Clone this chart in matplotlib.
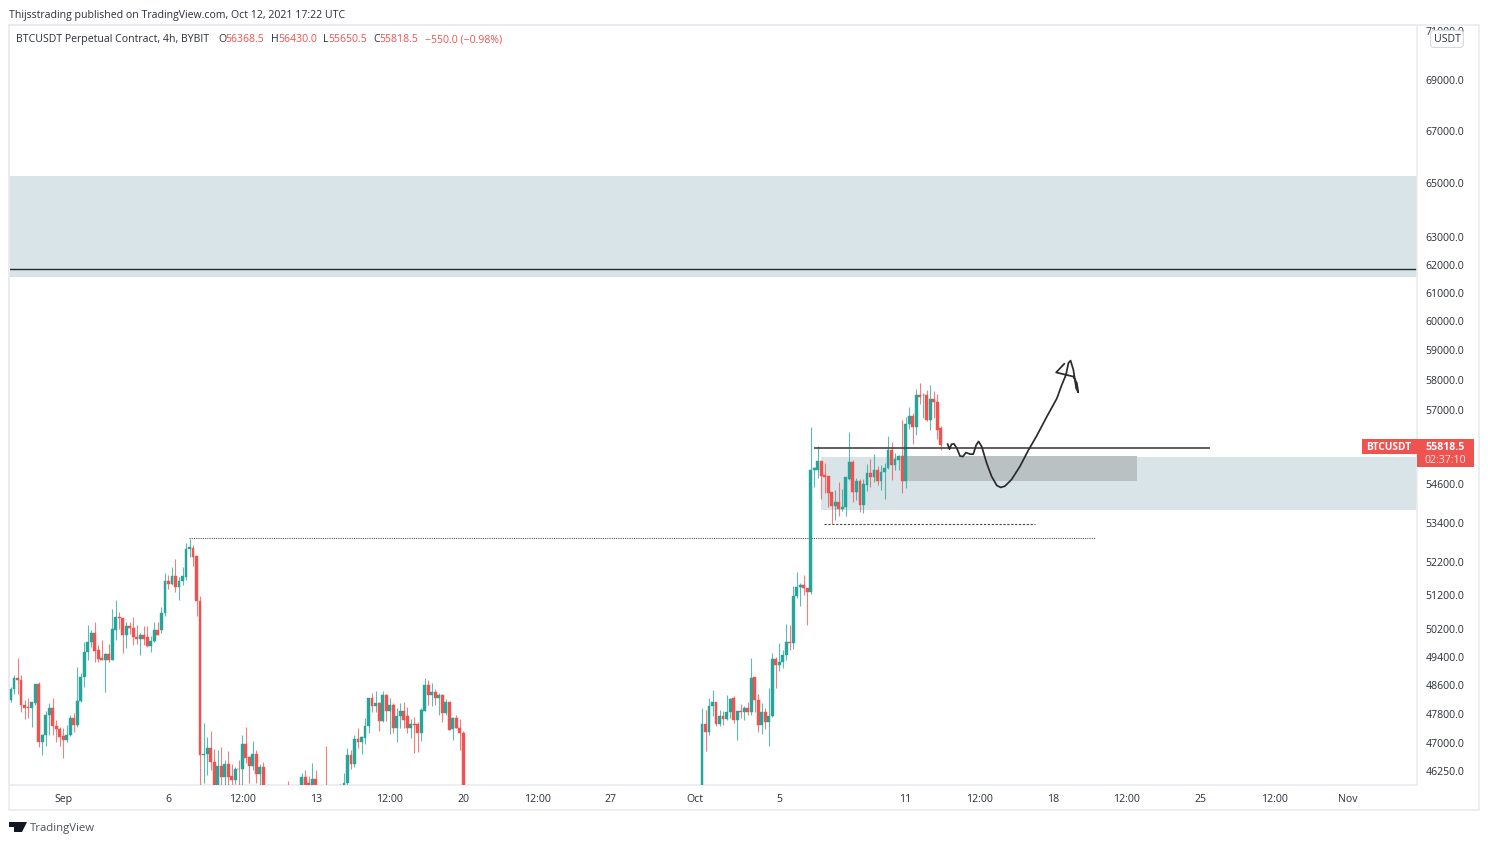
import matplotlib
matplotlib.use("Agg")
import matplotlib.pyplot as plt
from matplotlib.patches import Rectangle, Polygon
from matplotlib.ticker import NullLocator, FixedLocator, FixedFormatter
from matplotlib.transforms import ScaledTranslation

plt.rcParams['font.family'] = ['Open Sans', 'DejaVu Sans']

# ---------- data ----------
bar_index = (list(range(0, 73)) + [79, 83, 84, 85, 86, 87, 90, 94]
             + list(range(95, 130)) + list(range(197, 266)))

open_prices = [
48170,48470,48790,48730,48030,47970,47930,48080,48610,47000,47190,47740,47950,47450,47370,47180,47050,47190,47670,47480,
48140,48800,49520,49800,50060,49580,49340,49280,49470,49280,50160,50530,50500,50010,50260,50220,49960,49880,50010,49940,
49700,49850,50160,50140,50650,51610,51510,51750,51410,51610,51730,52560,52590,52350,50990,46650,46680,46840,46460,45750,
46370,46050,46410,46090,45990,46280,46270,46950,46590,46360,46680,46140,46320,
45700,45600,46050,45890,45700,46020,45700,45600,
45700,45910,46650,46400,47080,47010,47110,47450,48220,47990,48090,47590,48290,47870,48010,47380,47720,47860,47720,47380,
47510,47500,47240,47860,48580,48300,48400,48220,48300,47790,48110,47350,47650,47380,47260,
45600,47490,47290,48000,48100,47500,47730,47640,47820,48220,47610,47860,47820,47940,47820,48800,48170,47460,47820,47550,
47730,49320,49150,49230,49420,49810,49770,51140,51430,51480,51380,51280,55010,55010,55320,54860,54820,54320,53900,54020,
53790,53850,54750,55290,54340,54680,53930,54550,54920,54800,55010,54660,54950,55080,55670,55170,55350,55460,54680,56510,
56770,56400,57470,57450,57470,56640,57330,57220,56368.5]

high_prices = [
48520,48870,49340,48870,48170,48220,48120,48620,48680,47230,47870,48080,48220,47600,47410,47390,47470,47750,47800,49090,
48920,49820,50300,50160,50380,49730,49870,49490,49750,50770,51020,50690,50510,50400,50380,50530,50300,50060,50270,50270,
49970,50380,50400,50840,51830,51780,52010,52260,51730,52030,52740,52860,52690,52350,51140,47530,47130,47300,46810,46790,
46880,46520,46750,46400,46340,46520,47200,47410,46630,47030,46790,46400,46470,
45960,46180,46240,46090,46450,46250,46900,45880,
46170,46850,46790,47210,47380,47170,47650,48220,48350,48420,48110,48420,48330,48220,48070,47930,48070,48100,47960,47630,
47700,47560,47930,48770,48730,48630,48470,48350,48330,48190,48110,47680,47760,47630,47310,
47940,47890,48220,48430,48100,47890,47870,48310,48220,48280,47860,48060,48000,48120,49340,48800,48330,48080,47940,48490,
49490,49390,49770,49590,50330,50300,51450,51880,51530,51780,51380,56410,55110,55780,55320,55240,54820,54320,54380,54650,
54430,54800,56230,55350,54760,54740,54730,55220,55370,55540,55160,55190,55240,56130,55920,55580,55510,56640,56750,57080,
56860,57660,57880,57530,57640,57810,57610,57500,56430]

low_prices = [
48120,48340,48340,47830,47640,47670,47420,48030,46870,46650,46890,47190,47190,47010,46890,46560,47000,47160,47270,47410,
48110,48530,49280,49660,49230,49230,49280,48380,49230,49280,49870,50190,49500,49630,50040,49730,49750,49420,49730,49660,
49520,49820,50000,50060,50570,51350,51480,51260,51040,51480,51630,52310,52050,50570,45800,45890,46120,46250,45700,45700,
45700,45700,45700,45850,45880,45840,45800,46450,45890,46250,45910,45800,45700,
45400,45400,45500,45500,45500,45500,45300,45300,
45600,45810,46290,46330,46850,46670,46960,47240,47820,47820,47300,47540,47590,47220,47240,47010,47380,47380,47260,47120,
46700,46740,47030,47860,48020,48000,48020,47760,47560,47760,47330,47050,47380,46790,45400,
45400,46750,47200,47710,47430,47430,47480,47600,47660,47520,47060,47660,47600,47750,47750,47840,47290,47220,47360,46890,
47690,48500,48990,49060,49300,49570,49610,51090,50870,51170,50300,51220,54480,54780,54100,54310,53870,53320,53440,53580,
53720,53590,54710,54010,54080,53690,53670,54360,54480,54640,54550,54400,54100,55050,54710,55010,55030,54310,54440,56340,
55860,56150,57160,56700,56590,56320,56700,56010,55650.5]

close_prices = [
48480,48790,48710,48010,47950,47930,48100,48610,47000,47190,47740,47950,47450,47370,47150,47050,47200,47670,47480,48140,
48810,49530,49820,50060,49560,49320,49280,49470,49280,50190,50530,50500,50010,50260,50210,49940,49890,50010,49900,49700,
49850,50160,50000,50650,51610,51510,51750,51410,51610,51750,52560,52610,52330,50990,46650,46680,46840,46460,45750,46370,
46050,46410,46060,45990,46280,46270,46950,46580,46360,46680,46140,46320,45700,
45500,46050,45700,45700,46020,45700,45500,45700,
45910,46650,46400,47080,47010,47150,47450,48220,47990,48090,47590,48290,47870,48010,47380,47720,47860,47610,47380,47510,
47470,47240,47880,48580,48300,48400,48220,48300,47790,48110,47330,47650,47380,47240,45500,
47490,47290,48000,48100,47500,47730,47640,47820,48190,47610,47860,47820,47940,47820,48780,48170,47460,47820,47550,47730,
49320,49150,49230,49420,49810,49770,51140,51430,51480,51380,51280,55020,55070,55320,54820,54800,54310,53900,54020,53790,
53870,54800,55290,54340,54680,53930,54580,54920,54800,55010,54660,54950,55080,55670,55190,55370,55480,54680,56510,56770,
56400,57450,57410,57480,56640,57330,57220,56320,55818.5]

price_ticks = [71000, 69000, 67000, 65000, 63000, 62000, 61000, 60000, 59000, 58000, 57000,
               54600, 53400, 52200, 51200, 50200, 49400, 48600, 47800, 47000, 46250]
time_tick_bars = [15, 45, 66, 87, 108, 129, 150, 171, 195, 219, 255, 276, 297, 318, 339, 360, 381]
time_tick_labels = ['Sep', '6', '12:00', '13', '12:00', '20', '12:00', '27', 'Oct', '5', '11',
                    '12:00', '18', '12:00', '25', '12:00', 'Nov']

upper_zone = (61530, 65240)
resistance_line = 61820
lower_zone = (53770, 55440)
lower_zone_start = 230.9
grey_box = (54680, 55460)
grey_box_bars = (254.8, 321.0)
support_line = 55730
support_bars = (229.0, 341.7)
dotted_high = 52900
dotted_high_bars = (50.9, 309.0)
dotted_low = 53330
dotted_low_bars = (231.8, 291.9)

sketch_bars = [267.0,267.5,268.1,268.8,269.6,270.5,271.3,272.2,273.4,274.3,275.1,275.8,276.7,278.1,279.5,281.0,
               282.1,283.3,285.2,287.6,290.0,292.3,295.2,298.1,299.5,300.7,301.4,302.0,302.8,303.6,304.2,303.8,
               302.8,300.7,297.9,300.2]
sketch_prices = [55850,55690,55850,55860,55720,55470,55450,55580,55530,55530,55820,55940,55770,55240,54820,54530,
                 54470,54510,54720,55140,55660,56110,56740,57350,57800,58140,58540,58620,58310,57690,57550,57860,
                 58080,58140,58220,58510]

# ---------- style ----------
W, H = 1488, 843
UP, DOWN = '#26a69a', '#ef5350'
BORDER = '#e9ebf1'
TEXT = '#2a2e39'
FS = 7.55

def fx(x): return x / W
def fy(y): return 1 - y / H

fig = plt.figure(figsize=(W / 100, H / 100), dpi=100, facecolor='white')
ax = fig.add_axes([fx(9), fy(785), (1417 - 9) / W, (785 - 25) / H])
ax.set_yscale('log')
ax.set_ylim(45850, 71190)
ax.set_xlim(-0.43, 400.7)

# zones and levels
ax.axhspan(*upper_zone, color='#d9e4e8', lw=0, zorder=1)
ax.axhline(resistance_line, color='#1f2a30', lw=1.0, zorder=2)
ax.fill_between([lower_zone_start, 400.7], *lower_zone, color='#d9e4e8', lw=0, zorder=1)
ax.fill_between(grey_box_bars, *grey_box, color='#b9c1c3', lw=0, zorder=1.2)
ax.plot(support_bars, [support_line] * 2, color='#444444', lw=1.2, zorder=4, solid_capstyle='butt')
ax.plot(dotted_high_bars, [dotted_high] * 2, color='#555555', lw=0.8, ls=(0, (1, 1)), zorder=2.5)
ax.plot(dotted_low_bars, [dotted_low] * 2, color='#444444', lw=0.8, ls=(0, (2, 1.5)), zorder=2.5)

# candles
colors = [UP if c >= o else DOWN for o, c in zip(open_prices, close_prices)]
ax.vlines(bar_index, low_prices, high_prices, colors=colors, lw=0.8, alpha=0.75, zorder=3)
ax.bar(bar_index, [c - o for o, c in zip(open_prices, close_prices)], bottom=open_prices,
       width=0.82, color=colors, edgecolor=colors, linewidth=0.3, zorder=3.2)

# hand-drawn sketch
ax.plot(sketch_bars, sketch_prices, color='#2b2b2b', lw=1.25, zorder=5, solid_joinstyle='round')

# axes
ax.yaxis.set_major_locator(FixedLocator(price_ticks))
ax.yaxis.set_major_formatter(FixedFormatter([f'{p:.1f}' for p in price_ticks]))
ax.yaxis.set_minor_locator(NullLocator())
ax.xaxis.set_major_locator(FixedLocator(time_tick_bars))
ax.xaxis.set_major_formatter(FixedFormatter(time_tick_labels))
ax.tick_params(axis='y', left=False, right=False, labelleft=False, labelright=True,
               labelsize=FS, labelcolor=TEXT, pad=2.6)
ax.tick_params(axis='x', bottom=False, labelsize=FS, labelcolor=TEXT, pad=3)
shift = ScaledTranslation(0, -1 / 100, fig.dpi_scale_trans)
for label in ax.get_yticklabels():
    label.set_transform(label.get_transform() + shift)
for side in ax.spines.values():
    side.set_color(BORDER)
    side.set_linewidth(1.2)

# outer frame of the scales
fig.add_artist(Rectangle((fx(9), fy(810)), (1479 - 9) / W, (810 - 25) / H, transform=fig.transFigure,
                         fill=False, ec=BORDER, lw=1.2))

def ftext(x, y, s, **kw):
    kw.setdefault('fontsize', FS)
    kw.setdefault('color', TEXT)
    kw.setdefault('va', 'baseline')
    fig.text(fx(x), fy(y), s, **kw)

# header, legend line
ftext(9, 18, 'Thijsstrading published on TradingView.com, Oct 12, 2021 17:22 UTC')
ftext(16, 42, 'BTCUSDT Perpetual Contract, 4h, BYBIT')
for x, s, col in [(218, 'O', TEXT), (225, '56368.5', DOWN), (271, 'H', TEXT), (278, '56430.0', DOWN),
                  (323, 'L', TEXT), (328, '55650.5', DOWN), (373, 'C', TEXT), (379, '55818.5', DOWN),
                  (425, '\u2212550.0 (\u22120.98%)', DOWN)]:
    ftext(x, 42, s, color=col)

# unit box
ftext(1447, 39, 'USDT', ha='center', va='center', zorder=6,
      bbox=dict(boxstyle='round,pad=0.28', fc='white', ec='#d6d9e0', lw=0.8))

# last price tags
fig.add_artist(Rectangle((fx(1362), fy(454)), 55 / W, 15 / H, transform=fig.transFigure, fc=DOWN, ec='none', zorder=4))
fig.add_artist(Rectangle((fx(1417), fy(467)), 57 / W, 28 / H, transform=fig.transFigure, fc=DOWN, ec='none', zorder=4))
ftext(1388.5, 450, 'BTCUSDT', color='white', ha='center', fontweight='bold', zorder=6, fontsize=7.3)
ftext(1445, 450, '55818.5', color='white', ha='center', fontweight='bold', zorder=6)
ftext(1445, 463, '02:37:10', color='#fde6e6', ha='center', zorder=6)

# footer logo and name
logo = [
    [(9, 822), (19, 822), (19, 832), (14, 832), (14, 827), (9, 827)],
    [(19, 822), (27, 822), (22, 832), (17, 832)],
]
for pts in logo:
    fig.add_artist(Polygon([(fx(a), fy(b)) for a, b in pts], transform=fig.transFigure, fc='#131722', ec='none'))
ftext(30, 831, 'TradingView', fontsize=8.2, color='#50535e')

fig.savefig('out.png', dpi=100)
